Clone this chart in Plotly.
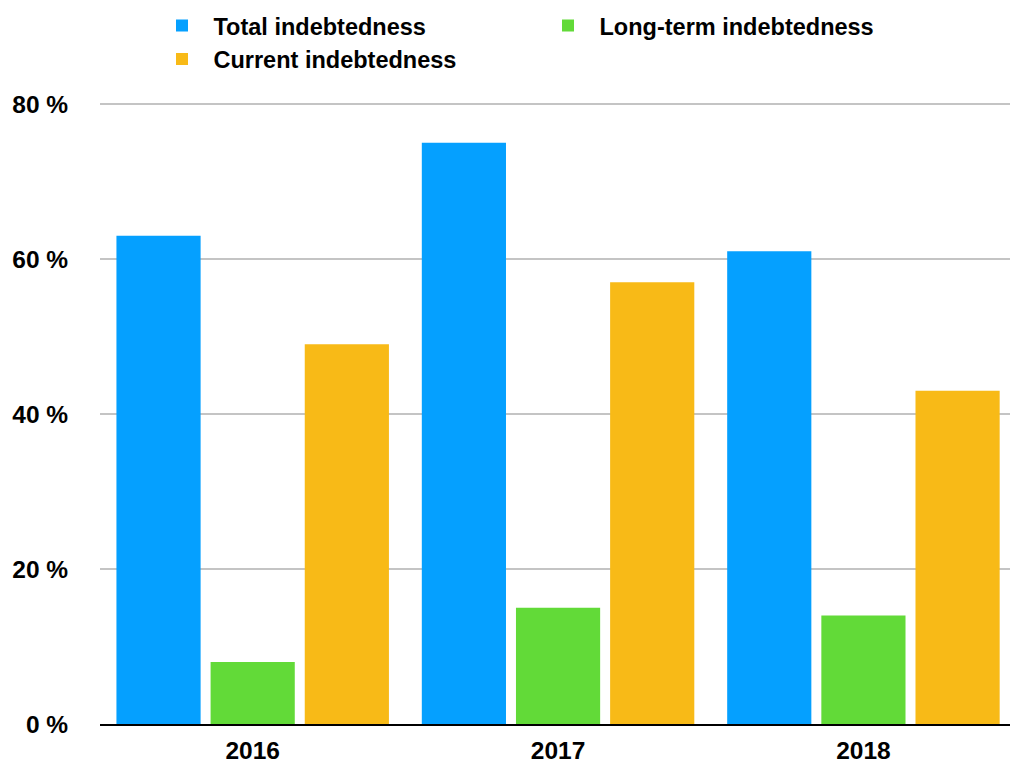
import plotly.graph_objects as go

years = ["2016", "2017", "2018"]
total_indebtedness = [63, 75, 61]
long_term_indebtedness = [8, 15, 14]
current_indebtedness = [49, 57, 43]
y_ticks = [0, 20, 40, 60, 80]
y_tick_labels = ["0 %", "20 %", "40 %", "60 %", "80 %"]

series = [
    ("Total indebtedness", total_indebtedness, "#05A0FF"),
    ("Long-term indebtedness", long_term_indebtedness, "#62DA38"),
    ("Current indebtedness", current_indebtedness, "#F8BA17"),
]

fig = go.Figure()
for name, values, color in series:
    fig.add_trace(go.Bar(
        x=years, y=values, name=name,
        marker=dict(color=color, line=dict(width=0)),
    ))

FONT = "Liberation Sans, Arial, sans-serif"
tick_font = dict(family=FONT, size=24.5, weight="bold", color="black")

fig.update_layout(
    width=1010, height=765,
    margin=dict(l=100, r=0, t=103, b=41),
    paper_bgcolor="white", plot_bgcolor="white",
    font=dict(family=FONT, size=23.5, color="black", weight="bold"),
    barmode="group", bargap=0.075, bargroupgap=0.106,
    legend=dict(
        orientation="h", x=0.0555, xanchor="left", y=1.16, yanchor="top",
        entrywidth=318, entrywidthmode="pixels", itemwidth=53,
        traceorder="normal", font=dict(family=FONT, size=23.5, weight="bold"),
        tracegroupgap=0,
    ),
    xaxis=dict(
        range=[-0.5, 2.48], showgrid=False, showline=True,
        linecolor="black", linewidth=2,
        ticks="outside", ticklen=4, tickcolor="rgba(0,0,0,0)",
        tickfont=tick_font,
    ),
    yaxis=dict(
        range=[0, 80.13], tickvals=y_ticks, ticktext=y_tick_labels,
        showgrid=True, gridcolor="#C4C4C4", gridwidth=1.5, zeroline=False,
        showline=False, ticks="outside", ticklen=26, tickcolor="rgba(0,0,0,0)",
        tickfont=tick_font,
    ),
)

fig.write_html("out.html")
